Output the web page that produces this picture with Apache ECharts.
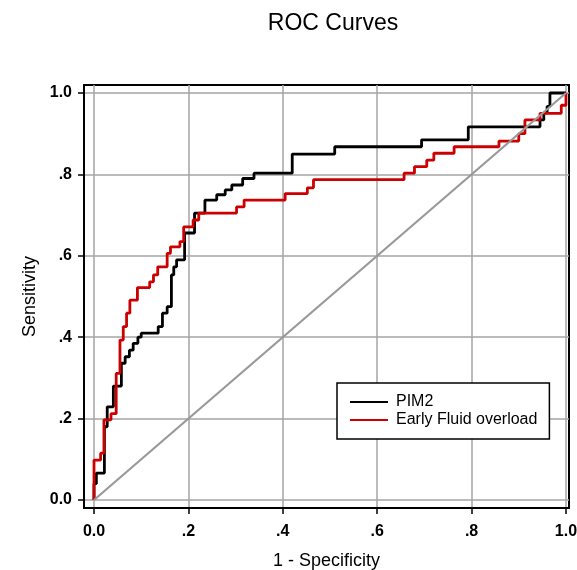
<!DOCTYPE html>
<html>
<head>
<meta charset="utf-8">
<script src="https://cdn.jsdelivr.net/npm/echarts@6/dist/echarts.min.js"></script>
<style>html,body{margin:0;padding:0;background:#fff;}#c{width:577px;height:570px;}</style>
</head>
<body>
<div id="c"></div>
<script>
// ROC corner points (x = 1 - specificity, y = sensitivity after each step)
var pim2X = [0, 0, 0.005, 0.022, 0.028, 0.041, 0.058, 0.066, 0.075, 0.083, 0.093, 0.1, 0.136, 0.145, 0.155, 0.164, 0.169, 0.175, 0.192, 0.213, 0.235, 0.26, 0.278, 0.292, 0.315, 0.339, 0.42, 0.51, 0.694, 0.793, 0.945, 0.953, 0.96, 0.966, 1];
var pim2Y = [0, 0.04, 0.066, 0.18, 0.229, 0.28, 0.336, 0.352, 0.368, 0.385, 0.40, 0.41, 0.426, 0.459, 0.475, 0.553, 0.573, 0.59, 0.656, 0.705, 0.737, 0.75, 0.762, 0.774, 0.79, 0.803, 0.85, 0.868, 0.885, 0.917, 0.934, 0.951, 0.967, 1.0, 1.0];
var efoX = [0, 0, 0.014, 0.021, 0.036, 0.047, 0.055, 0.062, 0.069, 0.076, 0.092, 0.118, 0.126, 0.135, 0.155, 0.162, 0.182, 0.19, 0.21, 0.222, 0.302, 0.318, 0.405, 0.452, 0.465, 0.657, 0.679, 0.705, 0.72, 0.763, 0.858, 0.9, 0.913, 0.945, 0.99, 1];
var efoY = [0, 0.098, 0.115, 0.197, 0.212, 0.311, 0.393, 0.426, 0.459, 0.491, 0.522, 0.536, 0.553, 0.573, 0.606, 0.622, 0.635, 0.671, 0.688, 0.705, 0.72, 0.737, 0.753, 0.767, 0.787, 0.803, 0.819, 0.835, 0.852, 0.868, 0.882, 0.9, 0.934, 0.95, 0.97, 1.0];
var refX = [0, 1];
var refY = [0, 1];
var tickValues = [0, 0.2, 0.4, 0.6, 0.8, 1];
var tickLabels = ['0.0', '.2', '.4', '.6', '.8', '1.0'];
var seriesNames = ['PIM2', 'Early Fluid overload'];

function zip(a, b) { return a.map(function (v, i) { return [v, b[i]]; }); }
function fmt(v) { var i = Math.round(v * 5); return tickLabels[i] !== undefined ? tickLabels[i] : ''; }

var FONT = 'Liberation Sans, Arial, sans-serif';
var chart = echarts.init(document.getElementById('c'), null, { renderer: 'canvas' });

function axisCommon(name, gap, margin) {
  return {
    type: 'value',
    name: name,
    nameLocation: 'middle',
    nameGap: gap,
    nameTextStyle: { fontFamily: FONT, fontSize: 18, color: '#000' },
    axisLine: { show: true, onZero: false, lineStyle: { color: '#000', width: 2 } },
    axisTick: { show: true, inside: false, length: 6, customValues: tickValues, lineStyle: { color: '#000', width: 1.5 } },
    axisLabel: { show: true, customValues: tickValues, formatter: fmt, fontFamily: FONT, fontSize: 16, fontWeight: 'bold', color: '#000', margin: margin },
    splitLine: { show: true, lineStyle: { color: '#a4a4a4', width: 1.5 } }
  };
}

var xa = axisCommon('1 - Specificity', 44, 16);
xa.min = -0.0212; xa.max = 1.0064;
var ya = axisCommon('Sensitivity', 44, 12);
ya.min = -0.0197; ya.max = 1.0197;

chart.setOption({
  backgroundColor: '#fff',
  animation: false,
  title: {
    text: 'ROC Curves',
    left: 328, top: 7, textAlign: 'center',
    textStyle: { fontFamily: FONT, fontSize: 23, fontWeight: 'normal', color: '#000' }
  },
  grid: { left: 84, top: 85, right: 8, bottom: 62, show: true, borderColor: '#000', borderWidth: 2,
    containLabel: false, outerBoundsMode: 'none' },
  legend: {
    orient: 'vertical',
    left: 337, top: 383,
    padding: [11, 12, 11, 12],
    itemWidth: 38, itemHeight: 14, itemGap: 2,
    borderColor: '#000', borderWidth: 1.5, backgroundColor: '#fff',
    itemStyle: { opacity: 0 },
    data: seriesNames,
    textStyle: { fontFamily: FONT, fontSize: 16, color: '#000', padding: [0, 0, 0, 3] }
  },
  xAxis: xa,
  yAxis: ya,
  series: [
    { name: seriesNames[0], type: 'line', step: 'end', data: zip(pim2X, pim2Y), showSymbol: false, symbol: 'none',
      lineStyle: { color: '#000', width: 2.8 }, itemStyle: { color: '#000' }, z: 3 },
    { name: seriesNames[1], type: 'line', step: 'end', data: zip(efoX, efoY), showSymbol: false, symbol: 'none',
      lineStyle: { color: '#cc0000', width: 2.8 }, itemStyle: { color: '#cc0000' }, z: 4 },
    { name: 'Reference', type: 'line', data: zip(refX, refY), showSymbol: false, symbol: 'none',
      lineStyle: { color: '#999', width: 2.2 }, itemStyle: { color: '#999' }, z: 5 }
  ]
});
</script>
</body>
</html>
